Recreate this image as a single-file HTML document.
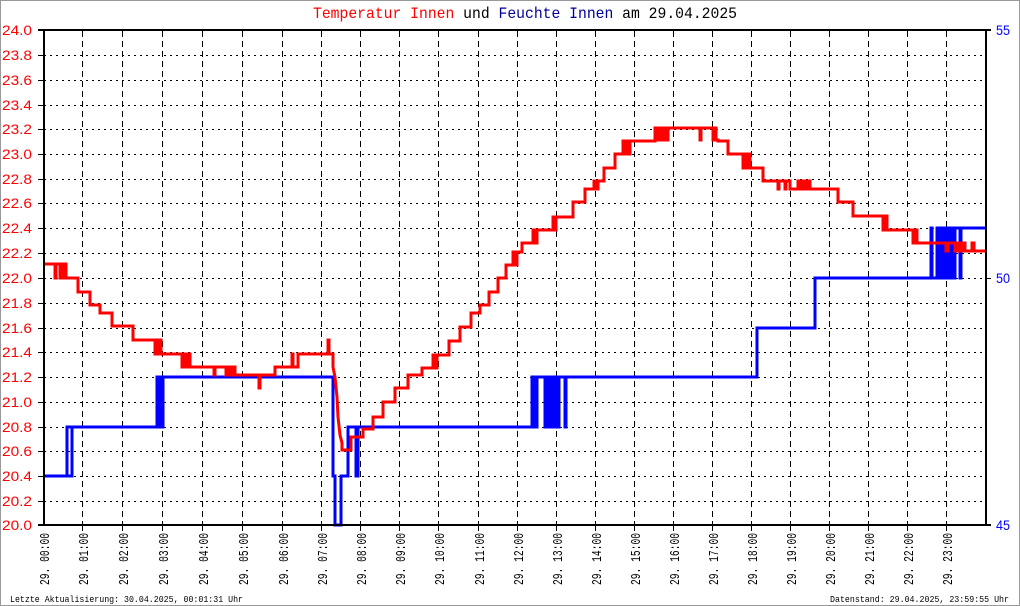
<!DOCTYPE html>
<html><head><meta charset="utf-8"><style>
html,body{margin:0;padding:0;background:#fff;}
svg{display:block;}
</style></head><body>
<svg width="1020" height="606" viewBox="0 0 1020 606" xmlns="http://www.w3.org/2000/svg">
<rect x="0" y="0" width="1020" height="606" fill="#fff"/>
<rect x="0.5" y="0.5" width="1019" height="605" fill="none" stroke="#999" stroke-width="1"/>

<!-- Title -->
<text x="313" y="18" font-family="Liberation Mono, monospace" font-size="16" textLength="424" lengthAdjust="spacingAndGlyphs"><tspan fill="#ff0000">Temperatur Innen</tspan><tspan fill="#000"> und </tspan><tspan fill="#000099">Feuchte Innen</tspan><tspan fill="#000"> am 29.04.2025</tspan></text>

<!-- horizontal dotted grid -->
<g stroke="#000" stroke-width="1" stroke-dasharray="2,4" shape-rendering="crispEdges">
<line x1="44" x2="986" y1="55.5" y2="55.5"/>
<line x1="44" x2="986" y1="80.5" y2="80.5"/>
<line x1="44" x2="986" y1="105.5" y2="105.5"/>
<line x1="44" x2="986" y1="129.5" y2="129.5"/>
<line x1="44" x2="986" y1="154.5" y2="154.5"/>
<line x1="44" x2="986" y1="179.5" y2="179.5"/>
<line x1="44" x2="986" y1="203.5" y2="203.5"/>
<line x1="44" x2="986" y1="228.5" y2="228.5"/>
<line x1="44" x2="986" y1="253.5" y2="253.5"/>
<line x1="44" x2="986" y1="278.5" y2="278.5"/>
<line x1="44" x2="986" y1="303.5" y2="303.5"/>
<line x1="44" x2="986" y1="328.5" y2="328.5"/>
<line x1="44" x2="986" y1="352.5" y2="352.5"/>
<line x1="44" x2="986" y1="377.5" y2="377.5"/>
<line x1="44" x2="986" y1="402.5" y2="402.5"/>
<line x1="44" x2="986" y1="427.5" y2="427.5"/>
<line x1="44" x2="986" y1="451.5" y2="451.5"/>
<line x1="44" x2="986" y1="476.5" y2="476.5"/>
<line x1="44" x2="986" y1="501.5" y2="501.5"/>
</g>
<!-- left ticks -->
<g stroke="#000" stroke-width="1" shape-rendering="crispEdges">
<line x1="38" x2="44" y1="55.5" y2="55.5"/>
<line x1="38" x2="44" y1="80.5" y2="80.5"/>
<line x1="38" x2="44" y1="105.5" y2="105.5"/>
<line x1="38" x2="44" y1="129.5" y2="129.5"/>
<line x1="38" x2="44" y1="154.5" y2="154.5"/>
<line x1="38" x2="44" y1="179.5" y2="179.5"/>
<line x1="38" x2="44" y1="203.5" y2="203.5"/>
<line x1="38" x2="44" y1="228.5" y2="228.5"/>
<line x1="38" x2="44" y1="253.5" y2="253.5"/>
<line x1="38" x2="44" y1="278.5" y2="278.5"/>
<line x1="38" x2="44" y1="303.5" y2="303.5"/>
<line x1="38" x2="44" y1="328.5" y2="328.5"/>
<line x1="38" x2="44" y1="352.5" y2="352.5"/>
<line x1="38" x2="44" y1="377.5" y2="377.5"/>
<line x1="38" x2="44" y1="402.5" y2="402.5"/>
<line x1="38" x2="44" y1="427.5" y2="427.5"/>
<line x1="38" x2="44" y1="451.5" y2="451.5"/>
<line x1="38" x2="44" y1="476.5" y2="476.5"/>
<line x1="38" x2="44" y1="501.5" y2="501.5"/>
<line x1="986" x2="991" y1="278.5" y2="278.5"/>
</g>

<!-- vertical dashed grid -->
<g stroke="#000" stroke-width="1" stroke-dasharray="6,4" shape-rendering="crispEdges">
<line x1="82.5" x2="82.5" y1="31" y2="525"/>
<line x1="122.5" x2="122.5" y1="31" y2="525"/>
<line x1="162.5" x2="162.5" y1="31" y2="525"/>
<line x1="202.5" x2="202.5" y1="31" y2="525"/>
<line x1="242.5" x2="242.5" y1="31" y2="525"/>
<line x1="282.5" x2="282.5" y1="31" y2="525"/>
<line x1="321.5" x2="321.5" y1="31" y2="525"/>
<line x1="360.5" x2="360.5" y1="31" y2="525"/>
<line x1="399.5" x2="399.5" y1="31" y2="525"/>
<line x1="438.5" x2="438.5" y1="31" y2="525"/>
<line x1="478.5" x2="478.5" y1="31" y2="525"/>
<line x1="517.5" x2="517.5" y1="31" y2="525"/>
<line x1="556.5" x2="556.5" y1="31" y2="525"/>
<line x1="595.5" x2="595.5" y1="31" y2="525"/>
<line x1="634.5" x2="634.5" y1="31" y2="525"/>
<line x1="673.5" x2="673.5" y1="31" y2="525"/>
<line x1="712.5" x2="712.5" y1="31" y2="525"/>
<line x1="751.5" x2="751.5" y1="31" y2="525"/>
<line x1="790.5" x2="790.5" y1="31" y2="525"/>
<line x1="829.5" x2="829.5" y1="31" y2="525"/>
<line x1="868.5" x2="868.5" y1="31" y2="525"/>
<line x1="907.5" x2="907.5" y1="31" y2="525"/>
<line x1="946.5" x2="946.5" y1="31" y2="525"/>
</g>
<!-- bottom ticks -->
<g stroke="#000" stroke-width="1" shape-rendering="crispEdges">
<line x1="82.5" x2="82.5" y1="525" y2="531"/>
<line x1="122.5" x2="122.5" y1="525" y2="531"/>
<line x1="162.5" x2="162.5" y1="525" y2="531"/>
<line x1="202.5" x2="202.5" y1="525" y2="531"/>
<line x1="242.5" x2="242.5" y1="525" y2="531"/>
<line x1="282.5" x2="282.5" y1="525" y2="531"/>
<line x1="321.5" x2="321.5" y1="525" y2="531"/>
<line x1="360.5" x2="360.5" y1="525" y2="531"/>
<line x1="399.5" x2="399.5" y1="525" y2="531"/>
<line x1="438.5" x2="438.5" y1="525" y2="531"/>
<line x1="478.5" x2="478.5" y1="525" y2="531"/>
<line x1="517.5" x2="517.5" y1="525" y2="531"/>
<line x1="556.5" x2="556.5" y1="525" y2="531"/>
<line x1="595.5" x2="595.5" y1="525" y2="531"/>
<line x1="634.5" x2="634.5" y1="525" y2="531"/>
<line x1="673.5" x2="673.5" y1="525" y2="531"/>
<line x1="712.5" x2="712.5" y1="525" y2="531"/>
<line x1="751.5" x2="751.5" y1="525" y2="531"/>
<line x1="790.5" x2="790.5" y1="525" y2="531"/>
<line x1="829.5" x2="829.5" y1="525" y2="531"/>
<line x1="868.5" x2="868.5" y1="525" y2="531"/>
<line x1="907.5" x2="907.5" y1="525" y2="531"/>
<line x1="946.5" x2="946.5" y1="525" y2="531"/>
</g>

<!-- Data: humidity (blue) -->
<path fill="none" stroke="#0000ff" stroke-width="3" stroke-linejoin="miter" d="M43,476 H72 V427 H157 V377 H158 V427 H159 V377 H160 V427 H161 V377 H162 V427 H163 V377 H333 V476 H335 V525 H341 V476 H348 V427 H356 V476 H358 V427 H532 V377 H534 V427 H537 V377 H545 V427 H546 V377 H548 V427 H549 V377 H552 V427 H553 V377 H555 V427 H556 V377 H558 V427 H559 V377 H565 V427 H566 V377 H757 V328 H815 V278 H931 V228 H932 V278 H937 V228 H938 V278 H940 V228 H941 V278 H943 V228 H944 V278 H946 V228 H947 V278 H949 V228 H950 V278 H952 V228 H953 V278 H955 V228 H960 V278 H961 V228 H985"/>
<path fill="none" stroke="#0000ff" stroke-width="3" d="M67,476 V427 H72"/>

<!-- Data: temperature (red) -->
<path fill="none" stroke="#ff0000" stroke-width="3" stroke-linejoin="miter" d="M43,264 H55 V278 H56 V264 H60 V278 H61 V264 H64 V278 H65 V264 H66 V278 H78 V292 H90 V305 H100 V313 H112 V326 H133 V340 H155 V354 H156 V340 H158 V354 H160 V340 H161 V354 H182 V367 H184 V354 H186 V367 H188 V354 H190 V367 H214 V375 H215 V367 H226 V375 H228 V367 H230 V375 H233 V367 H235 V375 H259 V388 H260 V375 H275 V367 H292 V354 H293 V367 H298 V354 H328 V340 H329 V354 H333 V367 L335,377 L337,397 L338,417 L340,435 L342,443 V450 H351 V437 H363 V429 H373 V417 H383 V402 H395 V388 H408 V375 H422 V368 H433 V355 H435 V368 H437 V355 H449 V341 H460 V327 H471 V313 H480 V305 H489 V292 H498 V278 H506 V265 H513 V252 H515 V265 H517 V252 H522 V243 H533 V230 H535 V243 H537 V230 H553 V217 H555 V230 H556 V217 H573 V202 H585 V189 H594 V181 H596 V189 H598 V181 H604 V168 H615 V154 H620 V154 H623 V141 H624 V154 H626 V141 H628 V154 H630 V141 H655 V128 H657 V140 H659 V128 H661 V140 H663 V128 H666 V140 H668 V128 H700 V140 H701 V128 H713 V140 H714 V128 H716 V140 H718 V141 H728 V154 H743 V168 H745 V154 H747 V168 H749 V154 H750 V168 H763 V181 H778 V189 H779 V181 H785 V189 H786 V181 H790 V189 H798 V181 H800 V189 H802 V181 H805 V189 H807 V181 H810 V189 H838 V202 H853 V216 H883 V230 H885 V216 H887 V230 H913 V243 H915 V230 H917 V243 H946 V251 H948 V243 H955 V251 H957 V243 H960 V251 H962 V243 H965 V251 H972 V243 H974 V251 H985"/>

<!-- Axes frame -->
<g stroke="#000" stroke-width="2" shape-rendering="crispEdges">
<line x1="38" x2="991" y1="30" y2="30"/>
<line x1="38" x2="991" y1="525" y2="525"/>
<line x1="44" x2="44" y1="29" y2="526"/>
<line x1="986" x2="986" y1="29" y2="526"/>
</g>

<!-- Left axis labels -->
<g fill="#ff0000" font-family="Liberation Sans, sans-serif" font-size="14">
<text x="2" y="35" textLength="30" lengthAdjust="spacingAndGlyphs">24.0</text>
<text x="2" y="60" textLength="30" lengthAdjust="spacingAndGlyphs">23.8</text>
<text x="2" y="85" textLength="30" lengthAdjust="spacingAndGlyphs">23.6</text>
<text x="2" y="110" textLength="30" lengthAdjust="spacingAndGlyphs">23.4</text>
<text x="2" y="134" textLength="30" lengthAdjust="spacingAndGlyphs">23.2</text>
<text x="2" y="159" textLength="30" lengthAdjust="spacingAndGlyphs">23.0</text>
<text x="2" y="184" textLength="30" lengthAdjust="spacingAndGlyphs">22.8</text>
<text x="2" y="208" textLength="30" lengthAdjust="spacingAndGlyphs">22.6</text>
<text x="2" y="233" textLength="30" lengthAdjust="spacingAndGlyphs">22.4</text>
<text x="2" y="258" textLength="30" lengthAdjust="spacingAndGlyphs">22.2</text>
<text x="2" y="283" textLength="30" lengthAdjust="spacingAndGlyphs">22.0</text>
<text x="2" y="308" textLength="30" lengthAdjust="spacingAndGlyphs">21.8</text>
<text x="2" y="333" textLength="30" lengthAdjust="spacingAndGlyphs">21.6</text>
<text x="2" y="357" textLength="30" lengthAdjust="spacingAndGlyphs">21.4</text>
<text x="2" y="382" textLength="30" lengthAdjust="spacingAndGlyphs">21.2</text>
<text x="2" y="407" textLength="30" lengthAdjust="spacingAndGlyphs">21.0</text>
<text x="2" y="432" textLength="30" lengthAdjust="spacingAndGlyphs">20.8</text>
<text x="2" y="456" textLength="30" lengthAdjust="spacingAndGlyphs">20.6</text>
<text x="2" y="481" textLength="30" lengthAdjust="spacingAndGlyphs">20.4</text>
<text x="2" y="506" textLength="30" lengthAdjust="spacingAndGlyphs">20.2</text>
<text x="2" y="530" textLength="30" lengthAdjust="spacingAndGlyphs">20.0</text>
</g>

<!-- Right axis labels -->
<g fill="#0000ff" font-family="Liberation Sans, sans-serif" font-size="14">
<text x="996" y="35" textLength="14" lengthAdjust="spacingAndGlyphs">55</text>
<text x="996" y="283" textLength="14" lengthAdjust="spacingAndGlyphs">50</text>
<text x="996" y="530" textLength="14" lengthAdjust="spacingAndGlyphs">45</text>
</g>

<!-- X labels -->
<g fill="#000" font-family="Liberation Mono, monospace" font-size="14">
<text transform="translate(49,585) rotate(-90)" textLength="52" lengthAdjust="spacingAndGlyphs">29. 00:00</text>
<text transform="translate(88,585) rotate(-90)" textLength="52" lengthAdjust="spacingAndGlyphs">29. 01:00</text>
<text transform="translate(128,585) rotate(-90)" textLength="52" lengthAdjust="spacingAndGlyphs">29. 02:00</text>
<text transform="translate(168,585) rotate(-90)" textLength="52" lengthAdjust="spacingAndGlyphs">29. 03:00</text>
<text transform="translate(208,585) rotate(-90)" textLength="52" lengthAdjust="spacingAndGlyphs">29. 04:00</text>
<text transform="translate(248,585) rotate(-90)" textLength="52" lengthAdjust="spacingAndGlyphs">29. 05:00</text>
<text transform="translate(288,585) rotate(-90)" textLength="52" lengthAdjust="spacingAndGlyphs">29. 06:00</text>
<text transform="translate(327,585) rotate(-90)" textLength="52" lengthAdjust="spacingAndGlyphs">29. 07:00</text>
<text transform="translate(366,585) rotate(-90)" textLength="52" lengthAdjust="spacingAndGlyphs">29. 08:00</text>
<text transform="translate(405,585) rotate(-90)" textLength="52" lengthAdjust="spacingAndGlyphs">29. 09:00</text>
<text transform="translate(444,585) rotate(-90)" textLength="52" lengthAdjust="spacingAndGlyphs">29. 10:00</text>
<text transform="translate(484,585) rotate(-90)" textLength="52" lengthAdjust="spacingAndGlyphs">29. 11:00</text>
<text transform="translate(523,585) rotate(-90)" textLength="52" lengthAdjust="spacingAndGlyphs">29. 12:00</text>
<text transform="translate(562,585) rotate(-90)" textLength="52" lengthAdjust="spacingAndGlyphs">29. 13:00</text>
<text transform="translate(601,585) rotate(-90)" textLength="52" lengthAdjust="spacingAndGlyphs">29. 14:00</text>
<text transform="translate(640,585) rotate(-90)" textLength="52" lengthAdjust="spacingAndGlyphs">29. 15:00</text>
<text transform="translate(679,585) rotate(-90)" textLength="52" lengthAdjust="spacingAndGlyphs">29. 16:00</text>
<text transform="translate(718,585) rotate(-90)" textLength="52" lengthAdjust="spacingAndGlyphs">29. 17:00</text>
<text transform="translate(757,585) rotate(-90)" textLength="52" lengthAdjust="spacingAndGlyphs">29. 18:00</text>
<text transform="translate(796,585) rotate(-90)" textLength="52" lengthAdjust="spacingAndGlyphs">29. 19:00</text>
<text transform="translate(835,585) rotate(-90)" textLength="52" lengthAdjust="spacingAndGlyphs">29. 20:00</text>
<text transform="translate(874,585) rotate(-90)" textLength="52" lengthAdjust="spacingAndGlyphs">29. 21:00</text>
<text transform="translate(913,585) rotate(-90)" textLength="52" lengthAdjust="spacingAndGlyphs">29. 22:00</text>
<text transform="translate(952,585) rotate(-90)" textLength="52" lengthAdjust="spacingAndGlyphs">29. 23:00</text>
</g>

<!-- Footer -->
<g fill="#000" font-family="Liberation Mono, monospace" font-size="9">
<text x="10" y="602" textLength="233" lengthAdjust="spacingAndGlyphs">Letzte Aktualisierung: 30.04.2025, 00:01:31 Uhr</text>
<text x="830" y="602" textLength="179" lengthAdjust="spacingAndGlyphs">Datenstand: 29.04.2025, 23:59:55 Uhr</text>
</g>
</svg>
</body></html>
